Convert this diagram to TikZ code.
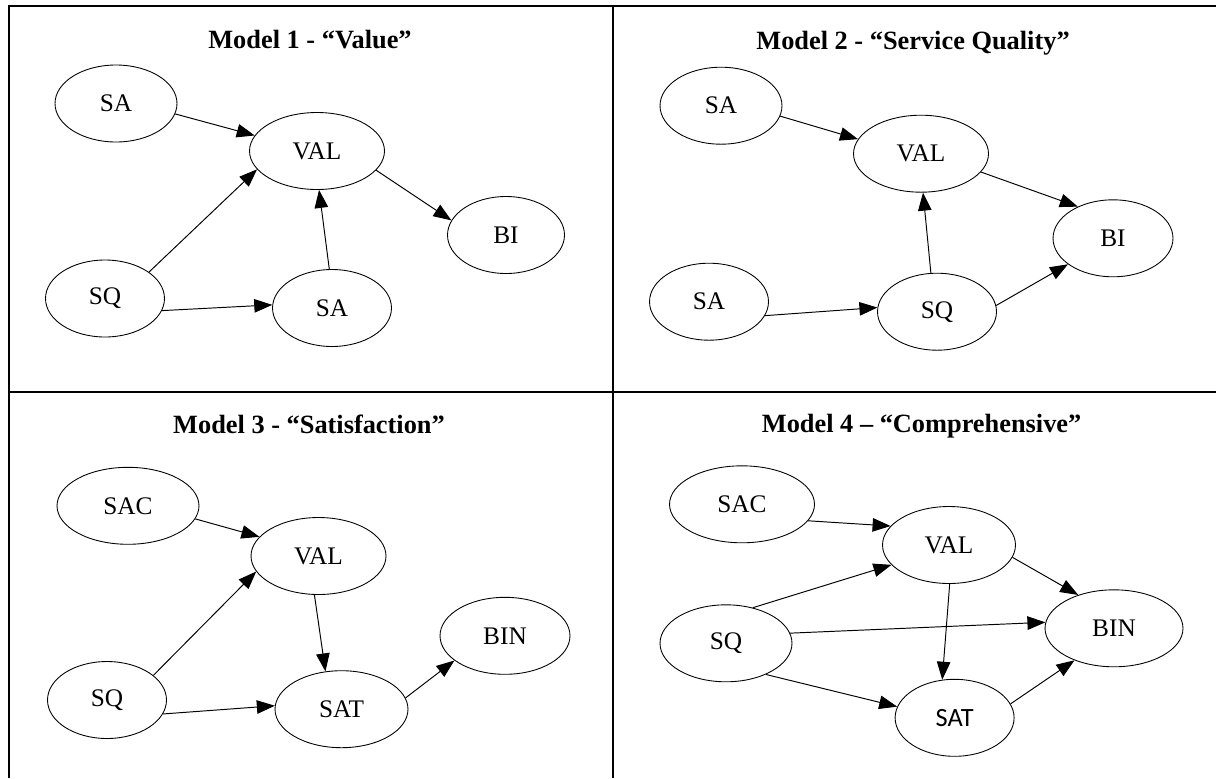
\documentclass[tikz,border=0pt]{standalone}
\usepackage{fontspec}
\setmainfont{Liberation Serif}
\newfontfamily\satfont{Carlito}
\usetikzlibrary{arrows.meta,shapes.geometric}

\begin{document}
\begin{tikzpicture}[x=0.02cm,y=-0.02cm,
    construct/.style={ellipse,draw,line width=0.5pt,inner sep=0pt,minimum width=#1,minimum height=1.54cm,font=\fontsize{14.4}{17}\selectfont},
    construct/.default=2.42cm,
    link/.style={-{Triangle[length=0.36cm,width=0.27cm]},line width=0.55pt},
    heading/.style={anchor=base,font=\bfseries\fontsize{15}{18}\selectfont},
    frame/.style={line width=1.1pt}]
  \clip (0,0) rectangle (1216,778);
  \useasboundingbox (0,0) rectangle (1216,778);

  % table lines
  \draw[frame] (8.7,778) -- (8.7,5.7) -- (1216,5.7);
  \draw[frame] (612.7,5.7) -- (612.7,778);
  \draw[frame] (8.7,391.7) -- (1216,391.7);

  % model 1
  \node[heading] (t1) at (310,48.5) {Model 1 - “Value”};
  \node[construct=2.44cm] (sa1) at (116,103.5) {SA};
  \node[construct=2.7cm] (val1) at (317,151) {VAL};
  \node[construct=2.34cm] (bi1) at (506,235) {BI};
  \node[construct=2.38cm] (sq1) at (105,298.5) {SQ};
  \node[construct=2.38cm] (sa1b) at (332,308) {SA};
  \draw[link] (sa1.-10.7) -- (val1.166.4);
  \draw[link] (sq1.31) -- (val1.-163.6);
  \draw[link] (sa1b.94) -- (val1.-87);
  \draw[link] (val1.-18.6) -- (bi1.165.2);
  \draw[link] (sq1.-12.5) -- (sa1b.177);

  % model 2
  \node[heading] (t2) at (913,49.5) {Model 2 - “Service Quality”};
  \node[construct=2.44cm] (sa2) at (721,105.7) {SA};
  \node[construct=2.7cm] (val2) at (921,153.7) {VAL};
  \node[construct=2.4cm] (bi2) at (1113,238.3) {BI};
  \node[construct=2.38cm] (sa2b) at (709,301.7) {SA};
  \node[construct=2.38cm] (sq2) at (937,311.7) {SQ};
  \draw[link] (sa2.-10.8) -- (val2.167.2);
  \draw[link] (val2.-17.6) -- (bi2.138.2);
  \draw[link] (sq2.99.7) -- (val2.-87);
  \draw[link] (sa2b.-14) -- (sq2.176.7);
  \draw[link] (sq2.6.9) -- (bi2.-150.8);

  % model 3
  \node[heading] (t3) at (309,433) {Model 3 - “Satisfaction”};
  \node[construct=2.84cm] (sac3) at (128,505.8) {SAC};
  \node[construct=2.7cm] (val3) at (318.5,556) {VAL};
  \node[construct=2.6cm] (bin3) at (505,635.8) {BIN};
  \node[construct=2.38cm] (sq3) at (107,700) {SQ};
  \node[construct=2.66cm] (sat3) at (341.5,709.2) {SAT};
  \draw[link] (sac3.-11.5) -- (val3.162.5);
  \draw[link] (sq3.28.2) -- (val3.-166.7);
  \draw[link] (val3.-96.7) -- (sat3.113.9);
  \draw[link] (sq3.-14.2) -- (sat3.177.8);
  \draw[link] (sat3.10.5) -- (bin3.-154.4);

  % model 4
  \node[heading] (t4) at (921.6,432) {Model 4 – “Comprehensive”};
  \node[construct=2.9cm] (sac4) at (742,504.3) {SAC};
  \node[construct=2.66cm] (val4) at (949,545) {VAL};
  \node[construct=2.76cm] (bin4) at (1114,628.3) {BIN};
  \node[construct=2.64cm] (sq4) at (726,643.3) {SQ};
  \node[construct=2.38cm,font=\satfont\fontsize{15}{18}\selectfont] (sat4) at (954.6,717.8) {SAT};
  \draw[link] (sac4.-14.8) -- (val4.162);
  \draw[link] (val4.-11.6) -- (bin4.137.9);
  \draw[link] (val4.-89.3) -- (sat4.108.9);
  \draw[link] (sq4.53.7) -- (val4.-161.8);
  \draw[link] (sq4.9.9) -- (bin4.175.7);
  \draw[link] (sq4.-38) -- (sat4.169.6);
  \draw[link] (sat4.14.3) -- (bin4.-141.6);
\end{tikzpicture}
\end{document}
